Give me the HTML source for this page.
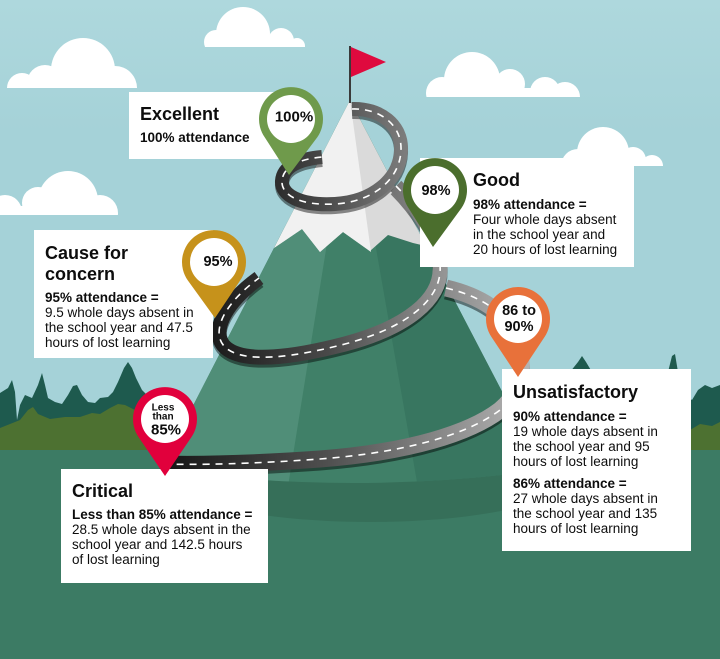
<!DOCTYPE html>
<html><head><meta charset="utf-8">
<style>
html,body{margin:0;padding:0;}
#wrap{position:relative;width:720px;height:659px;overflow:hidden;background:#a5d2d8;font-family:"Liberation Sans",sans-serif;color:#0d0d0d;}
svg{position:absolute;left:0;top:0;}
.box{position:absolute;background:#fff;}
.t{position:absolute;white-space:nowrap;}
.h{font-size:18px;font-weight:bold;line-height:20px;}
.b{font-size:13.5px;line-height:15px;}
.b b{font-weight:bold;}
</style></head><body>
<div id="wrap">
<svg width="720" height="659" viewBox="0 0 720 659">
<defs>
<linearGradient id="sky" x1="0" y1="0" x2="0" y2="1"><stop offset="0" stop-color="#aed8dd"/><stop offset="0.2" stop-color="#a5d2d8"/><stop offset="1" stop-color="#a5d2d8"/></linearGradient>
<clipPath id="c1"><rect x="190" y="0" width="130" height="47"/></clipPath>
<clipPath id="c2"><rect x="0" y="20" width="150" height="68"/></clipPath>
<clipPath id="c3"><rect x="0" y="150" width="130" height="65"/></clipPath>
<clipPath id="c4"><rect x="420" y="40" width="170" height="57"/></clipPath>
<clipPath id="c5"><rect x="555" y="110" width="120" height="56"/></clipPath>
<clipPath id="mtn"><path d="M350,100 L160,470 Q355,496 543,470 Z"/></clipPath>
<linearGradient id="g1" gradientUnits="userSpaceOnUse" x1="280" y1="0" x2="405" y2="0"><stop offset="0" stop-color="#2e2e2e"/><stop offset="1" stop-color="#7c7c7c"/></linearGradient>
<linearGradient id="g2" gradientUnits="userSpaceOnUse" x1="215" y1="0" x2="445" y2="0"><stop offset="0" stop-color="#1c1c1c"/><stop offset="0.5" stop-color="#4a4a4a"/><stop offset="1" stop-color="#959595"/></linearGradient>
<linearGradient id="g3" gradientUnits="userSpaceOnUse" x1="165" y1="0" x2="525" y2="0"><stop offset="0" stop-color="#161616"/><stop offset="0.45" stop-color="#4f4f4f"/><stop offset="1" stop-color="#b3b3b3"/></linearGradient>
</defs>
<rect width="720" height="659" fill="url(#sky)"/>
<!-- clouds -->
<g fill="#fff">
<g clip-path="url(#c1)"><circle cx="216" cy="42" r="12"/><circle cx="243" cy="34" r="27"/><circle cx="281" cy="41" r="13"/><circle cx="297" cy="46" r="8"/><rect x="216" y="40" width="81" height="7"/></g>
<g clip-path="url(#c2)"><circle cx="22" cy="88" r="15"/><circle cx="45" cy="83" r="18"/><circle cx="83" cy="70" r="32"/><circle cx="115" cy="88" r="22"/><rect x="22" y="80" width="93" height="8"/></g>
<g clip-path="url(#c3)"><circle cx="5" cy="212" r="17"/><circle cx="38" cy="203" r="16"/><circle cx="68" cy="201" r="30"/><circle cx="100" cy="213" r="18"/><rect x="5" y="206" width="95" height="9"/></g>
<g clip-path="url(#c4)"><circle cx="442" cy="93" r="16"/><circle cx="472" cy="80" r="28"/><circle cx="510" cy="84" r="15"/><circle cx="545" cy="92" r="15"/><circle cx="565" cy="97" r="15"/><rect x="442" y="88" width="123" height="9"/></g>
<g clip-path="url(#c5)"><circle cx="578" cy="166" r="17"/><circle cx="603" cy="153" r="26"/><circle cx="633" cy="160" r="13"/><circle cx="652" cy="166" r="11"/><rect x="578" y="158" width="74" height="8"/></g>
</g>
<!-- trees -->
<path fill="#1e5a4e" d="M0,452 L0,393 L8,388 L12,380 L15,392 L17,420 L20,405 L25,395 L32,398 L38,385 L42,373 L45,385 L48,398 L55,402 L62,404 L68,395 L73,386 L77,385 L82,395 L88,402 L95,403 L100,398 L108,397 L113,392 L118,382 L124,368 L128,362 L132,368 L136,378 L142,390 L150,398 L160,402 L175,405 L205,415 L205,452 Z"/>
<path fill="#4d7131" d="M0,452 L0,428 L10,424 L20,420 L28,410 L33,407 L38,414 L50,419 L65,417 L80,417 L92,413 L100,414 L110,408 L118,404 L125,405 L135,410 L145,414 L160,420 L180,428 L205,434 L205,452 Z"/>
<path fill="#1e5a4e" d="M540,452 L560,380 L570,372 L578,362 L582,356 L586,362 L592,372 L600,380 L660,385 L668,372 L672,356 L675,354 L678,372 L685,395 L692,400 L698,390 L705,385 L712,388 L720,385 L720,452 Z"/>
<path fill="#4d7131" d="M540,452 L600,440 L690,430 L700,424 L712,426 L720,422 L720,455 Z"/>
<rect x="0" y="450" width="720" height="209" fill="#3c7b64"/>
<!-- mountain -->
<ellipse cx="370" cy="474" rx="205" ry="48" fill="#366f59"/>
<g clip-path="url(#mtn)">
<rect x="140" y="90" width="420" height="420" fill="#408068"/>
<polygon points="350,100 285,505 140,505 140,90" fill="#508e78"/>
<polygon points="350,100 421,505 560,505 560,90" fill="#387660"/>
<polygon points="350,100 274,248 302,229 320,252 343,232 370,251 388,235 413,243 430,247 430,90" fill="#dadada"/>
<polygon points="350,100 274,248 302,229 320,252 343,232 371,252" fill="#f1f1f1"/>
</g>
<!-- flag -->
<line x1="350" y1="46" x2="350" y2="103" stroke="#3a3a3a" stroke-width="2"/>
<polygon points="351,47 386,62 351,77" fill="#df0a3e"/>
<!-- roads -->
<g fill="none" stroke-linecap="butt">
<path d="M446,288 C480,296 505,312 515,335 C525,360 525,390 500,410 C470,433 410,452 320,459 C250,464 200,465 160,464" stroke="rgba(0,0,0,0.45)" stroke-width="17" transform="translate(0,3)"/>
<path d="M446,288 C480,296 505,312 515,335 C525,360 525,390 500,410 C470,433 410,452 320,459 C250,464 200,465 160,464" stroke="url(#g3)" stroke-width="17"/>
<path d="M446,288 C480,296 505,312 515,335 C525,360 525,390 500,410 C470,433 410,452 320,459 C250,464 200,465 160,464" stroke="#fff" stroke-width="1.6" stroke-dasharray="7 6"/>

<path d="M396,186 C415,205 437,235 440,265 C443,300 405,328 345,344 C295,357 245,364 226,348 C210,334 222,305 259,278" stroke="rgba(0,0,0,0.45)" stroke-width="15" transform="translate(0,3)"/>
<path d="M396,186 C415,205 437,235 440,265 C443,300 405,328 345,344 C295,357 245,364 226,348 C210,334 222,305 259,278" stroke="url(#g2)" stroke-width="15"/>
<path d="M396,186 C415,205 437,235 440,265 C443,300 405,328 345,344 C295,357 245,364 226,348 C210,334 222,305 259,278" stroke="#fff" stroke-width="1.6" stroke-dasharray="7 6"/>

<path d="M352,109 C380,108 402,125 401,150 C400,180 372,202 335,204 C300,206 281,195 282,181 C283,166 300,159 322,157" stroke="rgba(0,0,0,0.45)" stroke-width="14" transform="translate(0,3)"/>
<path d="M352,109 C380,108 402,125 401,150 C400,180 372,202 335,204 C300,206 281,195 282,181 C283,166 300,159 322,157" stroke="url(#g1)" stroke-width="14"/>
<path d="M352,109 C380,108 402,125 401,150 C400,180 372,202 335,204 C300,206 281,195 282,181 C283,166 300,159 322,157" stroke="#fff" stroke-width="1.6" stroke-dasharray="7 6"/>
</g>
</svg>

<div class="box" style="left:129px;top:92px;width:166px;height:67px"></div>
<div class="box" style="left:420px;top:158px;width:214px;height:109px"></div>
<div class="box" style="left:34px;top:230px;width:179px;height:128px"></div>
<div class="box" style="left:502px;top:369px;width:189px;height:182px"></div>
<div class="box" style="left:61px;top:469px;width:207px;height:114px"></div>

<div class="t h" style="left:140px;top:104px">Excellent</div>
<div class="t b" style="left:140px;top:129.5px"><b>100% attendance</b></div>

<div class="t h" style="left:473px;top:170px">Good</div>
<div class="t b" style="left:473px;top:196.5px"><b>98% attendance =</b><br>Four whole days absent<br>in the school year and<br>20 hours of lost learning</div>

<div class="t h" style="left:45px;top:242.5px;line-height:21px">Cause for<br>concern</div>
<div class="t b" style="left:45px;top:289.5px"><b>95% attendance =</b><br>9.5 whole days absent in<br>the school year and 47.5<br>hours of lost learning</div>

<div class="t h" style="left:513px;top:382px">Unsatisfactory</div>
<div class="t b" style="left:513px;top:408.5px"><b>90% attendance =</b><br>19 whole days absent in<br>the school year and 95<br>hours of lost learning</div>
<div class="t b" style="left:513px;top:475.5px"><b>86% attendance =</b><br>27 whole days absent in<br>the school year and 135<br>hours of lost learning</div>

<div class="t h" style="left:72px;top:481px">Critical</div>
<div class="t b" style="left:72px;top:506.5px"><b>Less than 85% attendance =</b><br>28.5 whole days absent in the<br>school year and 142.5 hours<br>of lost learning</div>

<svg width="720" height="659" viewBox="0 0 720 659" style="font-family:'Liberation Sans',sans-serif;font-weight:bold">
<path d="M289,175 L317.3,137.3 A32,32 0 1 0 264.7,137.3 Z" fill="#6f9a4b"/>
<circle cx="291" cy="119" r="24" fill="#fff"/>
<text x="294" y="117" font-size="15" text-anchor="middle" dominant-baseline="central" fill="#0d0d0d">100%</text>

<path d="M433,247 L461.5,208 A32,32 0 1 0 408.5,208 Z" fill="#4b6e2d"/>
<circle cx="435" cy="190" r="24" fill="#fff"/>
<text x="436" y="191" font-size="14.5" text-anchor="middle" dominant-baseline="central" fill="#0d0d0d">98%</text>

<path d="M215,318 L240.3,280.3 A32,32 0 1 0 187.7,280.3 Z" fill="#c6921b"/>
<circle cx="214" cy="262" r="24" fill="#fff"/>
<text x="218" y="262" font-size="14.5" text-anchor="middle" dominant-baseline="central" fill="#0d0d0d">95%</text>

<path d="M518,377 L544.7,336.7 A32,32 0 1 0 491.3,336.7 Z" fill="#e8713a"/>
<circle cx="518" cy="319" r="24" fill="#fff"/>
<text x="519" y="311" font-size="14.5" text-anchor="middle" dominant-baseline="central" fill="#0d0d0d">86 to</text>
<text x="519" y="327" font-size="14.5" text-anchor="middle" dominant-baseline="central" fill="#0d0d0d">90%</text>

<path d="M165,476 L191.5,437 A32,32 0 1 0 138.5,437 Z" fill="#e1003c"/>
<circle cx="165" cy="419" r="24" fill="#fff"/>
<text x="163" y="408" font-size="10" text-anchor="middle" dominant-baseline="central" fill="#0d0d0d">Less</text>
<text x="163" y="417" font-size="10" text-anchor="middle" dominant-baseline="central" fill="#0d0d0d">than</text>
<text x="166" y="430" font-size="15" text-anchor="middle" dominant-baseline="central" fill="#0d0d0d">85%</text>
</svg>
</div>
</body></html>
